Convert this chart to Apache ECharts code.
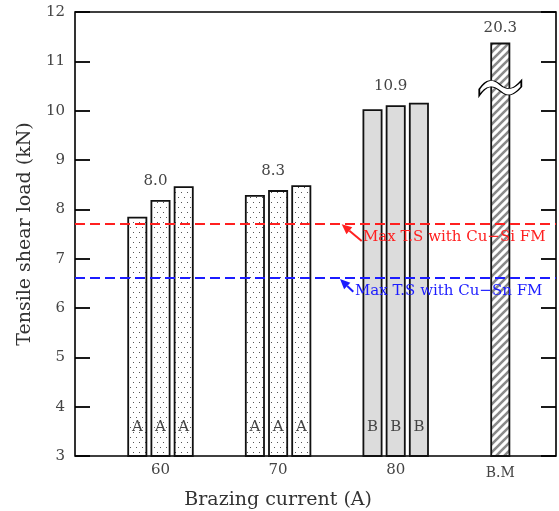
<!DOCTYPE html>
<html>
<head>
<meta charset="utf-8">
<script src="https://cdn.jsdelivr.net/npm/echarts@6/dist/echarts.min.js"></script>
<style>
  html, body { margin: 0; padding: 0; background: #fff; }
  #chart { width: 559px; height: 511px; }
</style>
</head>
<body>
<div id="chart"></div>
<script>
    // data
    const currents = ['60', '70', '80'];
    const sample1 = [7.85, 8.29, 10.03];
    const sample2 = [8.19, 8.39, 10.11];
    const sample3 = [8.47, 8.49, 10.16];
    const fracture = ['A', 'A', 'B'];
    const meanLabels = ['8.0', '8.3', '10.9'];
    const baseName = ['B.M'];
    const baseValue = [11.38];
    const baseLabel = '20.3';
    const baseBreak = 10.46;
    const cuSiMax = 7.70;
    const cuSnMax = 6.62;
    const yMin = 3, yMax = 12, yStep = 1;

    const FONT = 'DejaVu Serif';
    const red = '#ff2020';
    const blue = '#1c1cff';

    // fill patterns
    const dots = document.createElement('canvas');
    dots.width = 6; dots.height = 10;
    let c = dots.getContext('2d');
    c.fillStyle = '#fff'; c.fillRect(0, 0, 6, 10);
    c.fillStyle = '#555';
    c.fillRect(1, 2, 1, 1);
    c.fillRect(4, 7, 1, 1);

    const hatch = document.createElement('canvas');
    hatch.width = 8; hatch.height = 8;
    c = hatch.getContext('2d');
    c.fillStyle = '#fff'; c.fillRect(0, 0, 8, 8);
    c.strokeStyle = '#8a8a8a'; c.lineWidth = 2.6;
    [[0, 8, 8, 0], [-4, 4, 4, -4], [4, 12, 12, 4]].forEach(l => {
        c.beginPath(); c.moveTo(l[0], l[1]); c.lineTo(l[2], l[3]); c.stroke();
    });

    // dotted for fracture type A, plain grey for B
    const fills = [{image: dots, repeat: 'repeat'}, {image: dots, repeat: 'repeat'}, '#dcdcdc'];

    const arrow = (x1, y1, x2, y2, color) => {
        const L = Math.hypot(x2 - x1, y2 - y1), ux = (x2 - x1) / L, uy = (y2 - y1) / L;
        const hl = 10, hw = 4.5;
        const bx = x2 - ux * hl, by = y2 - uy * hl;
        return [
            {type: 'line', z: 100, shape: {x1, y1, x2: bx, y2: by}, style: {stroke: color, lineWidth: 2}},
            {type: 'polygon', z: 100, shape: {points: [[x2, y2], [bx - uy * hw, by + ux * hw], [bx + uy * hw, by - ux * hw]]}, style: {fill: color}}
        ];
    };

    const yHidden = gi => ({gridIndex: gi, type: 'value', min: yMin, max: yMax, interval: yStep, show: false});
    const tickStyle = {show: true, inside: true, length: 15, lineStyle: {color: '#000', width: 1.8}};
    const sampleBar = (data, showMean) => {
        const s = {
            type: 'bar', xAxisIndex: 1, yAxisIndex: 2,
            data: data.map((v, i) => ({value: v, itemStyle: {color: fills[i]}})),
            barWidth: 20, barGap: '16%',
            itemStyle: {borderColor: '#111', borderWidth: 1.8},
            label: {
                show: true, position: 'insideBottom', distance: 22,
                formatter: p => fracture[p.dataIndex],
                fontFamily: FONT, fontSize: 15, color: '#444'
            }
        };
        if (showMean) {
            s.markPoint = {
                symbol: 'rect', symbolSize: 1, itemStyle: {color: 'transparent'},
                label: {show: true, position: 'top', distance: 11, offset: [-5, 0], formatter: p => p.name,
                    fontFamily: FONT, fontSize: 15, color: '#444'},
                data: currents.map((cur, i) => ({name: meanLabels[i], coord: [cur, data[i]]}))
            };
        }
        return s;
    };

    const option = {
        animation: false,
        grid: [
            {left: 75, right: 3, top: 12, bottom: 55, outerBoundsMode: 'none', show: true, borderColor: '#000', borderWidth: 1.6},
            {left: 101.7, right: 104.5, top: 12, bottom: 55, outerBoundsMode: 'none'},
            {left: 470.3, right: 28.7, top: 12, bottom: 55, outerBoundsMode: 'none'}
        ],
        xAxis: [
            {gridIndex: 0, type: 'value', min: 0, max: 1, show: false},
            {
                gridIndex: 1, type: 'category', data: currents,
                axisLine: {show: false}, axisTick: {show: false},
                axisLabel: {margin: 7, fontFamily: FONT, fontSize: 15, color: '#444'},
                name: 'Brazing current (A)', nameLocation: 'middle', nameGap: 35,
                nameTextStyle: {fontFamily: FONT, fontSize: 19, color: '#333'}
            },
            {
                gridIndex: 2, type: 'category', data: baseName,
                axisLine: {show: false}, axisTick: {show: false},
                axisLabel: {margin: 10, fontFamily: FONT, fontSize: 14, color: '#444'}
            }
        ],
        yAxis: [
            {
                gridIndex: 0, type: 'value', min: yMin, max: yMax, interval: yStep, position: 'left',
                axisLine: {show: false}, axisTick: tickStyle, splitLine: {show: false},
                axisLabel: {margin: 10, fontFamily: FONT, fontSize: 15, color: '#444'},
                name: 'Tensile shear load (kN)', nameLocation: 'middle', nameGap: 40,
                nameTextStyle: {fontFamily: FONT, fontSize: 19, color: '#333'}
            },
            {
                gridIndex: 0, type: 'value', min: yMin, max: yMax, interval: yStep, position: 'right',
                axisLine: {show: false}, axisTick: tickStyle, splitLine: {show: false}, axisLabel: {show: false}
            },
            yHidden(1),
            yHidden(2)
        ],
        series: [
            sampleBar(sample1, false),
            sampleBar(sample2, true),
            sampleBar(sample3, false),
            {
                type: 'bar', xAxisIndex: 2, yAxisIndex: 3, data: baseValue, barWidth: 20,
                itemStyle: {color: {image: hatch, repeat: 'repeat'}, borderColor: '#111', borderWidth: 1.8},
                label: {show: true, position: 'top', distance: 7, formatter: () => baseLabel,
                    fontFamily: FONT, fontSize: 15, color: '#444'},
                markPoint: {
                    symbol: 'path://M0,12 C7,2 13,2 20,8 C27,14 33,12 40,4 L40,10 C33,18 27,20 20,14 C13,8 7,8 0,18 Z',
                    symbolSize: [42, 15], symbolKeepAspect: false,
                    itemStyle: {color: '#fff', borderColor: '#000', borderWidth: 1.1},
                    label: {show: false},
                    data: [{coord: [baseName[0], baseBreak]}]
                }
            },
            {
                type: 'line', xAxisIndex: 0, yAxisIndex: 0, data: [], z: 10,
                markLine: {
                    symbol: 'none', silent: true, label: {show: false},
                    lineStyle: {type: [10, 5], width: 2},
                    data: [
                        {yAxis: cuSiMax, lineStyle: {color: red}},
                        {yAxis: cuSnMax, lineStyle: {color: blue}}
                    ]
                }
            }
        ],
        graphic: [
            ...arrow(361.7, 241, 341.7, 224.3, red),
            ...arrow(353.3, 291.7, 340, 279, blue),
            {type: 'text', z: 100, x: 363, y: 237, style: {text: 'Max T.S with Cu\u2212Si FM', fill: red,
                font: '15px "DejaVu Serif"', verticalAlign: 'middle'}},
            {type: 'text', z: 100, x: 355, y: 291, style: {text: 'Max T.S with Cu\u2212Sn FM', fill: blue,
                font: '15px "DejaVu Serif"', verticalAlign: 'middle'}}
        ]
    };

    const chart = echarts.init(document.getElementById('chart'));
    chart.setOption(option);
</script>
</body>
</html>
